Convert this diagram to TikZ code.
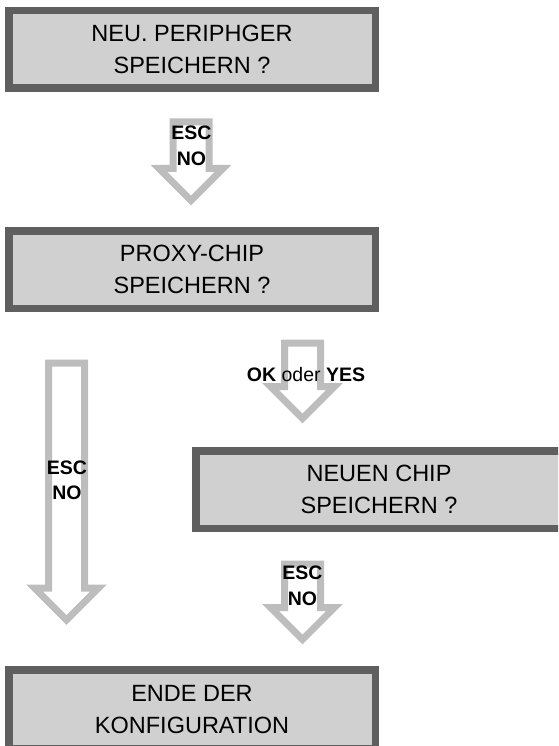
\documentclass[tikz,border=0pt]{standalone}
\usepackage{fontspec}
\setmainfont{Liberation Sans}
\usetikzlibrary{shapes.arrows}

\definecolor{screengray}{RGB}{208,208,208}
\definecolor{screenedge}{RGB}{95,95,95}
\definecolor{arrowgray}{RGB}{189,189,189}

\begin{document}
\begin{tikzpicture}[
    x=1pt, y=-1pt,
    screen/.style={
        rectangle,
        draw=screenedge, fill=screengray, line width=7.5pt,
        minimum width=366.5pt, minimum height=77.5pt,
        inner sep=0pt, align=center,
        font=\fontsize{23.5}{32}\selectfont
    },
    keyarrow/.style={
        single arrow, rotate=-90, anchor=tail,
        draw=arrowgray, fill=white, line width=7pt,
        inner xsep=0pt, inner ysep=14.5pt,
        single arrow head extend=14pt,
        single arrow tip angle=90
    },
    keylabel/.style={
        inner sep=0pt, align=center,
        font=\bfseries\fontsize{19.5}{25.5}\selectfont
    }
]
    \useasboundingbox (0,0) rectangle (558,746);
    \clip (0,0) rectangle (558,746);

    % The 4 Screens ===========================
    \node[screen] (NeuPeriph) at (192, 49.5) {NEU. PERIPHGER\\SPEICHERN ?};
    \node[screen] (ProxyChip) at (192, 269.5) {PROXY-CHIP\\SPEICHERN ?};
    \node[screen] (NeuerChip) at (379, 489.5) {NEUEN CHIP\\SPEICHERN ?};
    \node[screen, minimum height=79pt] (Ende) at (192, 709.5) {ENDE DER\\KONFIGURATION};

    % Key Arrows ====================
    % NeuPeriph to ProxyChip
    \node[keyarrow, minimum height=78.5pt] (EscOne) at (191, 118.5) {};
    % ProxyChip to Ende
    \node[keyarrow, minimum height=257pt] (EscTwo) at (66.5, 359.5) {};
    % ProxyChip to NeuerChip
    \node[keyarrow, minimum height=75.5pt] (OkYes) at (302.5, 339.5) {};
    % NeuerChip to Ende
    \node[keyarrow, minimum height=75.5pt] (EscThree) at (302.5, 560.5) {};

    % Key Labels ==================
    \node[keylabel] (EscOneLabel) at (191.5, 146) {ESC\\NO};
    \node[keylabel] (EscTwoLabel) at (67, 480.5) {ESC\\NO};
    \node[keylabel] (OkYesLabel) at (306, 374.5) {OK {\mdseries oder} YES};
    \node[keylabel] (EscThreeLabel) at (302.5, 586) {ESC\\NO};

\end{tikzpicture}
\end{document}
